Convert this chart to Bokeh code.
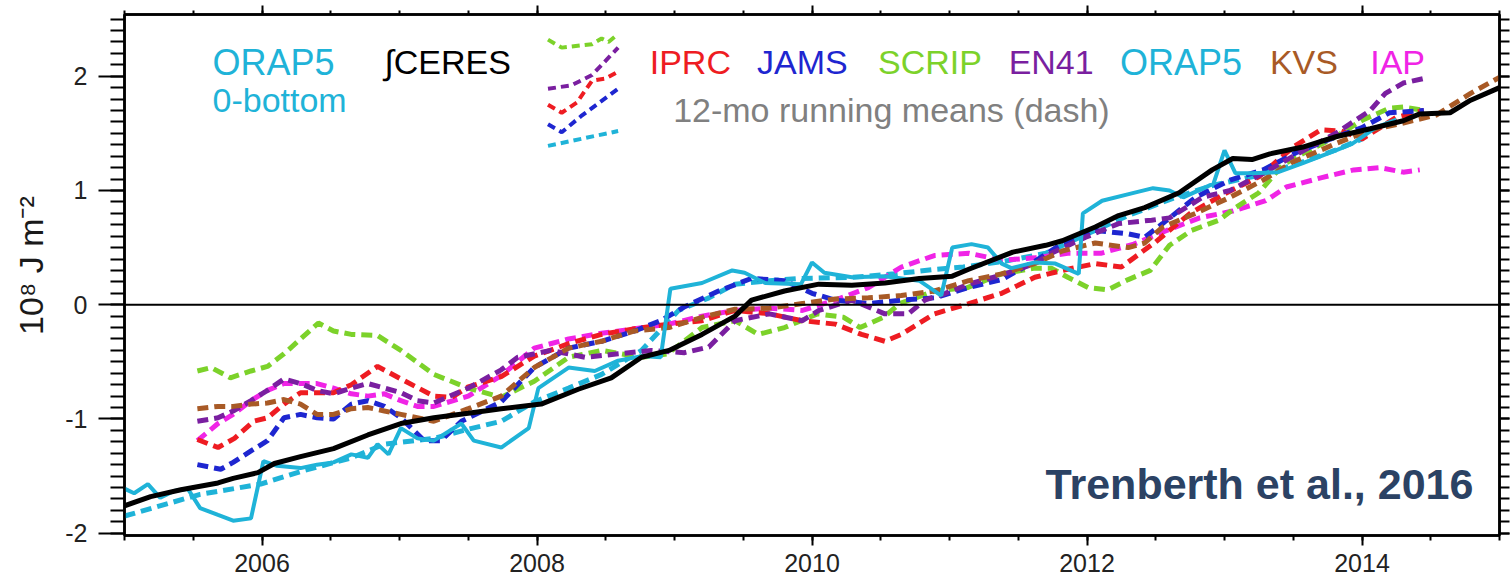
from bokeh.plotting import figure
from bokeh.models import LinearAxis, FixedTicker, Range1d, Span, Label, CustomJSTickFormatter
from bokeh.embed import file_html
from bokeh.resources import INLINE

# ---------------- data (decimal years, 10^8 J m^-2) ----------------
ceres_x = [2005.00, 2005.19, 2005.41, 2005.68, 2005.79, 2005.97, 2006.09, 2006.28, 2006.52, 2006.77,
           2007.01, 2007.25, 2007.50, 2007.74, 2008.03, 2008.30, 2008.54, 2008.76, 2008.96, 2009.20,
           2009.44, 2009.56, 2009.80, 2010.05, 2010.29, 2010.53, 2010.78, 2011.02, 2011.14, 2011.46,
           2011.70, 2011.82, 2012.06, 2012.23, 2012.42, 2012.67, 2012.91, 2013.06, 2013.20, 2013.33,
           2013.57, 2013.81, 2014.06, 2014.30, 2014.42, 2014.64, 2014.79, 2015.00]
ceres_y = [-1.76, -1.68, -1.62, -1.56, -1.52, -1.47, -1.39, -1.33, -1.26, -1.14,
           -1.04, -0.99, -0.95, -0.91, -0.87, -0.74, -0.64, -0.46, -0.40, -0.26,
           -0.10, 0.04, 0.12, 0.18, 0.17, 0.19, 0.23, 0.25, 0.31, 0.46,
           0.52, 0.56, 0.68, 0.78, 0.85, 0.98, 1.18, 1.28, 1.27, 1.32,
           1.38, 1.47, 1.54, 1.61, 1.67, 1.68, 1.79, 1.90]

orap_x = [2005.00, 2005.07, 2005.17, 2005.26, 2005.36, 2005.46, 2005.55, 2005.68, 2005.79, 2005.92,
          2006.01, 2006.11, 2006.28, 2006.40, 2006.52, 2006.65, 2006.77, 2006.84, 2006.92, 2007.01,
          2007.13, 2007.25, 2007.45, 2007.54, 2007.74, 2007.94, 2008.01, 2008.23, 2008.42, 2008.59,
          2008.76, 2008.90, 2008.97, 2009.20, 2009.42, 2009.51, 2009.66, 2009.92, 2010.00, 2010.09,
          2010.29, 2010.53, 2010.78, 2010.94, 2011.02, 2011.16, 2011.28, 2011.38, 2011.45, 2011.62,
          2011.77, 2011.94, 2011.97, 2012.11, 2012.31, 2012.48, 2012.60, 2012.70, 2012.92, 2013.00,
          2013.08, 2013.20, 2013.39, 2013.57, 2013.81, 2013.93, 2014.10, 2014.25]
orap_y = [-1.61, -1.65, -1.57, -1.69, -1.63, -1.61, -1.78, -1.84, -1.89, -1.87,
          -1.37, -1.41, -1.43, -1.40, -1.38, -1.31, -1.34, -1.22, -1.31, -1.08,
          -1.17, -1.19, -1.04, -1.19, -1.25, -1.08, -0.73, -0.55, -0.58, -0.49,
          -0.45, -0.46, 0.14, 0.19, 0.30, 0.28, 0.19, 0.18, 0.37, 0.28,
          0.24, 0.25, 0.21, 0.08, 0.50, 0.53, 0.50, 0.36, 0.32, 0.37,
          0.36, 0.27, 0.80, 0.91, 0.97, 1.02, 1.00, 0.94, 1.06, 1.35,
          1.15, 1.15, 1.16, 1.24, 1.35, 1.41, 1.55, 1.62]

orap12_x = [2005.00, 2005.55, 2005.99, 2006.28, 2006.65, 2006.89, 2007.25, 2007.50, 2007.74, 2007.98,
            2008.23, 2008.47, 2008.76, 2009.03, 2009.25, 2009.44, 2009.69, 2009.92, 2010.30, 2010.60,
            2010.90, 2011.10, 2011.40, 2011.70, 2012.00, 2012.30, 2012.60, 2012.90, 2013.20, 2013.50,
            2013.80, 2014.00]
orap12_y = [-1.85, -1.66, -1.57, -1.46, -1.34, -1.22, -1.17, -1.09, -1.02, -0.85,
            -0.73, -0.61, -0.40, -0.05, 0.06, 0.18, 0.21, 0.23, 0.24, 0.27,
            0.31, 0.33, 0.38, 0.45, 0.62, 0.78, 0.92, 1.04, 1.12, 1.22,
            1.35, 1.45]

scrip_x = [2005.53, 2005.63, 2005.77, 2005.92, 2006.04, 2006.16, 2006.41, 2006.52, 2006.65, 2006.84,
           2007.01, 2007.25, 2007.50, 2007.74, 2007.98, 2008.23, 2008.47, 2008.76, 2008.95, 2009.20,
           2009.44, 2009.61, 2009.80, 2010.04, 2010.23, 2010.35, 2010.52, 2010.64, 2010.89, 2011.13,
           2011.38, 2011.62, 2011.74, 2011.86, 2012.01, 2012.15, 2012.30, 2012.46, 2012.60, 2012.76,
           2012.96, 2013.08, 2013.25, 2013.42, 2013.58, 2013.78, 2014.01, 2014.20, 2014.30, 2014.45]
scrip_y = [-0.58, -0.55, -0.64, -0.58, -0.54, -0.43, -0.16, -0.23, -0.26, -0.27,
           -0.40, -0.61, -0.73, -0.81, -0.67, -0.46, -0.40, -0.46, -0.43, -0.20,
           -0.14, -0.26, -0.20, -0.08, -0.11, -0.20, -0.11, 0.01, 0.12, 0.15,
           0.27, 0.32, 0.32, 0.24, 0.15, 0.13, 0.22, 0.30, 0.52, 0.65,
           0.74, 0.85, 0.98, 1.22, 1.33, 1.45, 1.62, 1.72, 1.73, 1.70]

iprc_x = [2005.53, 2005.68, 2005.80, 2005.94, 2006.04, 2006.16, 2006.28, 2006.52, 2006.65, 2006.84,
          2007.01, 2007.25, 2007.38, 2007.50, 2007.74, 2007.98, 2008.23, 2008.47, 2008.71, 2008.96,
          2009.20, 2009.44, 2009.69, 2009.93, 2010.17, 2010.36, 2010.53, 2010.65, 2010.89, 2011.14,
          2011.38, 2011.62, 2011.82, 2012.06, 2012.25, 2012.50, 2012.75, 2013.00, 2013.25, 2013.50,
          2013.70, 2013.85, 2014.00, 2014.25, 2014.45]
iprc_y = [-1.18, -1.25, -1.17, -1.02, -0.99, -0.87, -0.77, -0.77, -0.70, -0.54,
          -0.65, -0.80, -0.81, -0.72, -0.63, -0.45, -0.34, -0.26, -0.21, -0.17,
          -0.14, -0.05, -0.08, -0.14, -0.17, -0.26, -0.32, -0.26, -0.08, 0.01,
          0.10, 0.24, 0.30, 0.36, 0.33, 0.55, 0.80, 0.97, 1.12, 1.38,
          1.53, 1.52, 1.45, 1.64, 1.70]

jams_x = [2005.53, 2005.70, 2005.79, 2005.92, 2006.04, 2006.16, 2006.28, 2006.40, 2006.52, 2006.65,
          2006.77, 2006.89, 2007.01, 2007.18, 2007.30, 2007.45, 2007.74, 2007.98, 2008.23, 2008.47,
          2008.71, 2008.90, 2009.07, 2009.32, 2009.56, 2009.80, 2010.00, 2010.17, 2010.41, 2010.65,
          2010.89, 2011.14, 2011.38, 2011.62, 2011.80, 2012.06, 2012.30, 2012.42, 2012.55, 2012.79,
          2013.04, 2013.28, 2013.52, 2013.77, 2014.00, 2014.20, 2014.45]
jams_y = [-1.40, -1.44, -1.38, -1.28, -1.19, -0.99, -0.96, -0.99, -1.00, -0.87,
          -0.84, -0.89, -0.99, -1.19, -1.19, -1.02, -0.85, -0.55, -0.38, -0.32,
          -0.23, -0.14, -0.02, 0.12, 0.23, 0.21, 0.10, 0.04, 0.01, 0.04,
          0.06, 0.15, 0.22, 0.38, 0.52, 0.65, 0.62, 0.59, 0.71, 0.94,
          1.09, 1.18, 1.33, 1.45, 1.55, 1.68, 1.70]

en41_x = [2005.53, 2005.68, 2005.79, 2005.92, 2006.04, 2006.16, 2006.28, 2006.40, 2006.52, 2006.65,
          2006.77, 2006.89, 2007.01, 2007.13, 2007.25, 2007.50, 2007.74, 2007.86, 2008.10, 2008.35,
          2008.59, 2008.83, 2009.07, 2009.25, 2009.44, 2009.69, 2009.93, 2010.05, 2010.29, 2010.53,
          2010.70, 2010.82, 2010.97, 2011.14, 2011.38, 2011.62, 2011.74, 2011.99, 2012.23, 2012.47,
          2012.60, 2012.84, 2013.04, 2013.28, 2013.50, 2013.81, 2014.06, 2014.17, 2014.30, 2014.45]
en41_y = [-1.02, -0.99, -0.93, -0.84, -0.75, -0.65, -0.69, -0.75, -0.78, -0.73,
          -0.69, -0.73, -0.77, -0.84, -0.86, -0.73, -0.57, -0.46, -0.40, -0.46,
          -0.43, -0.40, -0.42, -0.37, -0.14, -0.08, -0.14, -0.05, 0.04, -0.08,
          -0.08, 0.04, 0.10, 0.18, 0.26, 0.36, 0.45, 0.59, 0.71, 0.74,
          0.76, 0.94, 1.00, 1.15, 1.30, 1.50, 1.70, 1.85, 1.94, 1.98]

kvs_x = [2005.53, 2005.68, 2005.79, 2005.92, 2006.04, 2006.16, 2006.28, 2006.40, 2006.52, 2006.65,
         2006.77, 2006.89, 2007.01, 2007.25, 2007.50, 2007.74, 2007.98, 2008.23, 2008.47, 2008.71,
         2008.96, 2009.20, 2009.44, 2009.69, 2009.93, 2010.17, 2010.41, 2010.65, 2010.89, 2011.14,
         2011.38, 2011.62, 2011.82, 2012.06, 2012.30, 2012.42, 2012.55, 2012.79, 2013.04, 2013.28,
         2013.50, 2013.81, 2014.06, 2014.30, 2014.54, 2014.79, 2015.00]
kvs_y = [-0.91, -0.89, -0.89, -0.87, -0.86, -0.83, -0.87, -0.96, -0.96, -0.91,
         -0.90, -0.93, -0.96, -1.02, -0.91, -0.80, -0.55, -0.38, -0.32, -0.23,
         -0.20, -0.11, -0.04, -0.03, 0.01, 0.05, 0.06, 0.08, 0.12, 0.21,
         0.27, 0.36, 0.47, 0.54, 0.50, 0.54, 0.68, 0.80, 0.94, 1.09,
         1.25, 1.41, 1.53, 1.59, 1.66, 1.85, 1.99]

iap_x = [2005.53, 2005.68, 2005.79, 2005.92, 2006.04, 2006.16, 2006.28, 2006.40, 2006.52, 2006.65,
         2006.77, 2006.89, 2007.01, 2007.13, 2007.25, 2007.50, 2007.74, 2007.98, 2008.23, 2008.47,
         2008.71, 2008.96, 2009.20, 2009.44, 2009.69, 2009.93, 2010.17, 2010.41, 2010.65, 2010.89,
         2011.14, 2011.38, 2011.62, 2011.86, 2012.10, 2012.34, 2012.58, 2012.82, 2013.06, 2013.30,
         2013.45, 2013.70, 2013.94, 2014.13, 2014.30, 2014.42]
iap_y = [-1.19, -1.04, -0.96, -0.84, -0.75, -0.69, -0.69, -0.69, -0.73, -0.78,
         -0.80, -0.78, -0.84, -0.89, -0.89, -0.80, -0.62, -0.38, -0.30, -0.25,
         -0.21, -0.17, -0.10, -0.05, -0.03, -0.05, 0.04, 0.15, 0.33, 0.43,
         0.45, 0.39, 0.41, 0.45, 0.45, 0.53, 0.65, 0.76, 0.82, 0.91,
         1.03, 1.11, 1.18, 1.20, 1.16, 1.18]

# small hand-drawn legend sample of dashed curves (top centre)
key_green_x = [2008.08, 2008.18, 2008.40, 2008.47, 2008.52, 2008.59]
key_green_y = [2.32, 2.25, 2.28, 2.33, 2.30, 2.37]
key_purple_x = [2008.08, 2008.25, 2008.40, 2008.59]
key_purple_y = [1.89, 1.92, 2.01, 2.25]
key_red_x = [2008.08, 2008.18, 2008.29, 2008.40, 2008.50, 2008.59]
key_red_y = [1.75, 1.68, 1.77, 1.96, 1.98, 2.04]
key_blue_x = [2008.08, 2008.18, 2008.32, 2008.59]
key_blue_y = [1.58, 1.51, 1.65, 1.89]
key_cyan_x = [2008.08, 2008.59]
key_cyan_y = [1.39, 1.52]

year_ticks = [2006, 2008, 2010, 2012, 2014]
y_ticks = [-2, -1, 0, 1, 2]
y_tick_labels = ["-2", "-1", "0", "1", "2"]

C_CYAN = "#1FB3D8"
C_GREEN = "#7CD22A"
C_RED = "#EE1C22"
C_BLUE = "#1E26D0"
C_PURPLE = "#7A1FA0"
C_BROWN = "#A85A26"
C_MAGENTA = "#F024E6"
FONT = "Liberation Sans"

# ---------------- figure ----------------
W, H = 1511, 585
p = figure(width=W, height=H, output_backend="svg", toolbar_location=None,
           x_range=Range1d(2005, 2015), y_range=Range1d(-2.02, 2.54),
           min_border_left=124, min_border_right=12, min_border_top=14, min_border_bottom=50)
p.outline_line_color = "black"
p.outline_line_width = 2.5
p.xgrid.visible = False
p.ygrid.visible = False
p.background_fill_color = "white"
p.border_fill_color = "white"

xt = FixedTicker(ticks=year_ticks, minor_ticks=[2005 + 0.5 * i for i in range(21)])
yt = FixedTicker(ticks=y_ticks, minor_ticks=[round(-2.0 + 0.1 * i, 1) for i in range(46)])
blank = CustomJSTickFormatter(code="return ''")


def style(ax, ticker, major_out, minor_out, size):
    ax.ticker = ticker
    ax.axis_line_width = 2.5
    ax.axis_line_color = "black"
    ax.major_tick_line_width = 2
    ax.minor_tick_line_width = 2
    ax.major_tick_line_color = "black"
    ax.minor_tick_line_color = "black"
    ax.major_tick_in = 0
    ax.minor_tick_in = 0
    ax.major_tick_out = major_out
    ax.minor_tick_out = minor_out
    ax.major_label_text_font = FONT
    ax.major_label_text_font_size = size
    ax.major_label_text_color = "#222222"


xb = p.xaxis[0]
style(xb, xt, 10, 5, "25px")
xb.major_label_standoff = 8
yl = p.yaxis[0]
style(yl, yt, 26, 14, "25px")
yl.major_label_standoff = 11
yl.major_label_overrides = {t: s for t, s in zip(y_ticks, y_tick_labels)}
yl.axis_label = "\u00a0\u00a010\u2078 J m\u207b\u00b2"
yl.axis_label_text_font = FONT
yl.axis_label_text_font_size = "34px"
yl.axis_label_text_font_style = "normal"
yl.axis_label_text_color = "#1a1a1a"
yl.axis_label_standoff = 12

xtop = LinearAxis()
style(xtop, xt, 9, 4, "1px")
xtop.formatter = blank
xtop.major_label_standoff = 0
p.add_layout(xtop, "above")
yr = LinearAxis()
style(yr, yt, 10, 10, "1px")
yr.formatter = blank
yr.major_label_standoff = 0
p.add_layout(yr, "right")

p.add_layout(Span(location=0, dimension="width", line_color="black", line_width=2))

dash = "11 6"
lw = 5
p.line(orap12_x, orap12_y, line_color=C_CYAN, line_width=lw, line_dash=dash)
p.line(iap_x, iap_y, line_color=C_MAGENTA, line_width=lw, line_dash=dash)
p.line(scrip_x, scrip_y, line_color=C_GREEN, line_width=lw, line_dash=dash)
p.line(iprc_x, iprc_y, line_color=C_RED, line_width=lw, line_dash=dash)
p.line(jams_x, jams_y, line_color=C_BLUE, line_width=lw, line_dash=dash)
p.line(en41_x, en41_y, line_color=C_PURPLE, line_width=lw, line_dash=dash)
p.line(kvs_x, kvs_y, line_color=C_BROWN, line_width=lw, line_dash=dash)
p.line(orap_x, orap_y, line_color=C_CYAN, line_width=4)
p.line(ceres_x, ceres_y, line_color="black", line_width=5)

kd = "8 5"
p.line(key_green_x, key_green_y, line_color=C_GREEN, line_width=4, line_dash=kd)
p.line(key_purple_x, key_purple_y, line_color=C_PURPLE, line_width=4, line_dash=kd)
p.line(key_red_x, key_red_y, line_color=C_RED, line_width=4, line_dash=kd)
p.line(key_blue_x, key_blue_y, line_color=C_BLUE, line_width=4, line_dash=kd)
p.line(key_cyan_x, key_cyan_y, line_color=C_CYAN, line_width=4, line_dash=kd)


def lab(x, y, text, color, size="34px", style="normal", align="left"):
    p.add_layout(Label(x=x, y=y, text=text, text_color=color, text_font=FONT,
                       text_font_size=size, text_font_style=style,
                       text_align=align, text_baseline="middle"))


lab(2005.64, 2.12, "ORAP5", C_CYAN, size="36px")
lab(2005.64, 1.79, "0-bottom", C_CYAN)
lab(2006.89, 2.12, "\u222bCERES", "black")
lab(2008.82, 2.12, "IPRC", C_RED)
lab(2009.60, 2.12, "JAMS", C_BLUE)
lab(2010.48, 2.12, "SCRIP", C_GREEN)
lab(2011.43, 2.12, "EN41", C_PURPLE)
lab(2012.24, 2.12, "ORAP5", C_CYAN, size="36px")
lab(2013.33, 2.12, "KVS", C_BROWN)
lab(2014.06, 2.12, "IAP", C_MAGENTA)
lab(2008.99, 1.70, "12-mo running means (dash)", "#808080")
lab(2014.81, -1.57, "Trenberth et al., 2016", "#2B4264", size="43px", style="bold", align="right")

open("out.html", "w").write(file_html(p, INLINE))
